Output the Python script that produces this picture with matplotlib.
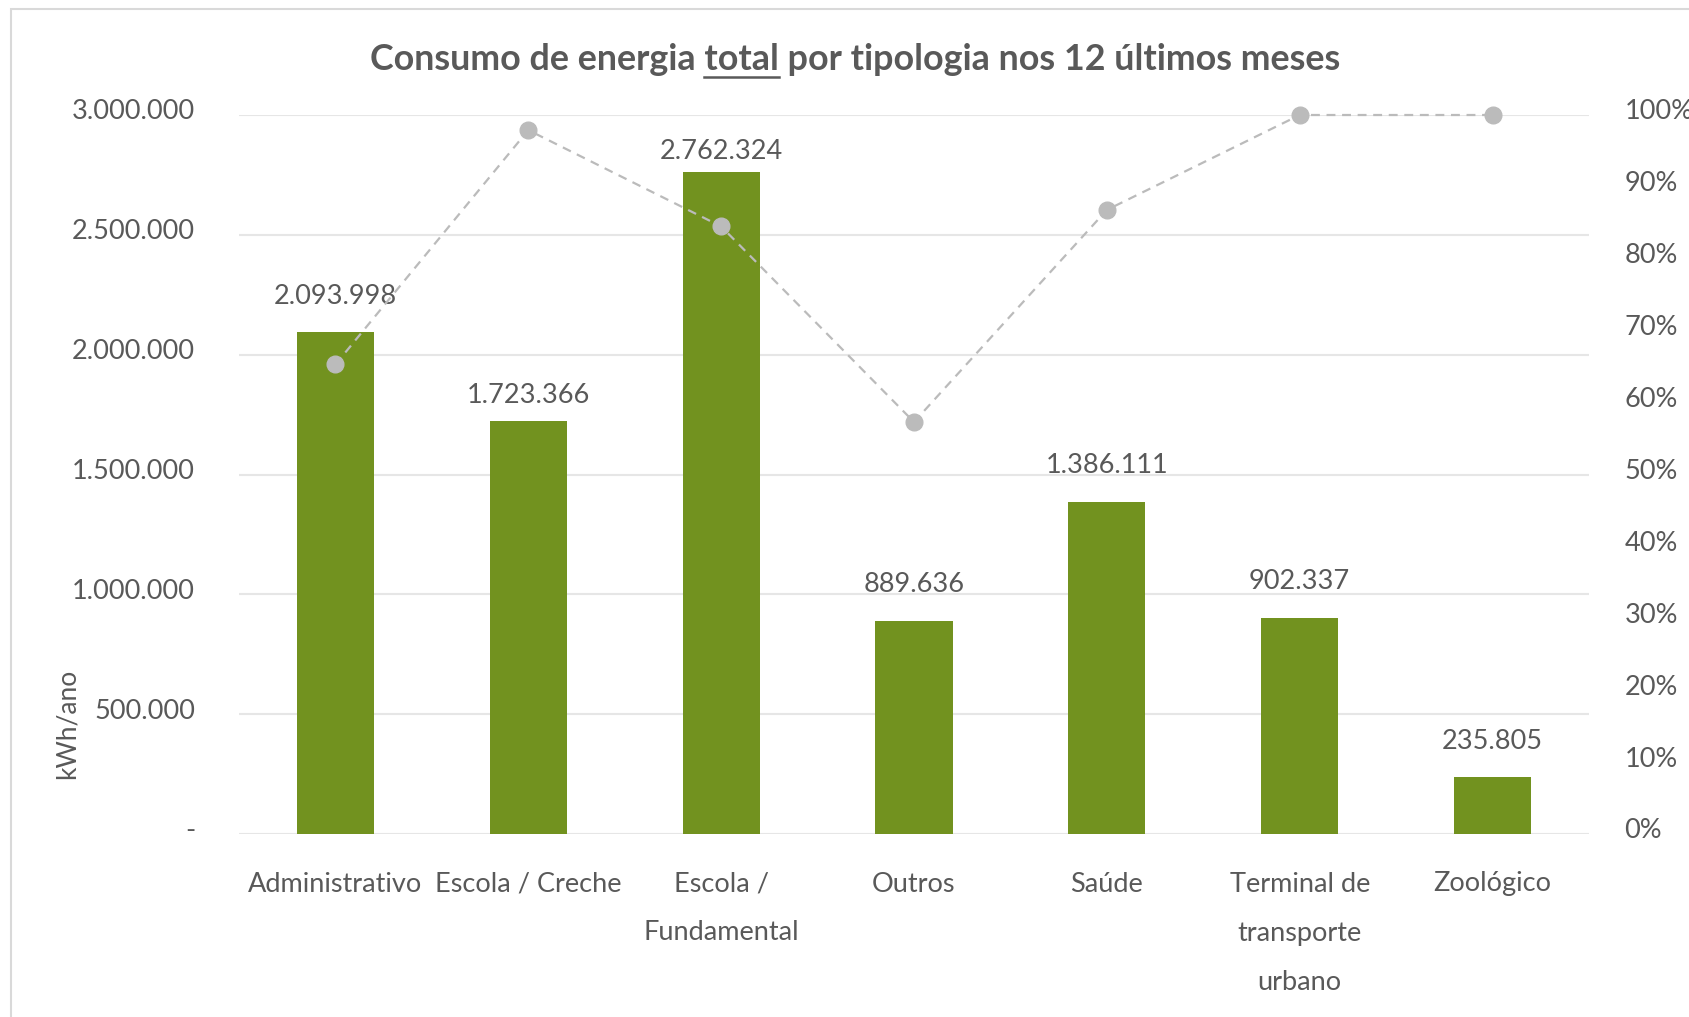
import matplotlib
matplotlib.use("Agg")
import matplotlib.pyplot as plt
from matplotlib.patches import Rectangle
from matplotlib.lines import Line2D
from matplotlib.transforms import ScaledTranslation
import numpy as np

categories = ["Administrativo", "Escola / Creche", "Escola /\nFundamental", "Outros",
              "Saúde", "Terminal de\ntransporte\nurbano", "Zoológico"]
consumo = [2093998, 1723366, 2762324, 889636, 1386111, 902337, 235805]
percent = [0.653, 0.979, 0.845, 0.573, 0.868, 1.0, 1.0]
left_ticks = [0, 500000, 1000000, 1500000, 2000000, 2500000, 3000000]
right_ticks = [0.0, 0.1, 0.2, 0.3, 0.4, 0.5, 0.6, 0.7, 0.8, 0.9, 1.0]
title_pre = "Consumo de energia "
title_mid = "total"
title_post = " por tipologia nos 12 últimos meses"
# vertical offsets (points) of the value labels above each bar
label_offsets = [26, 18, 15, 26, 26, 26, 26]

W, H = 1690, 1017
DPI = 100
TXT = "#595959"
FONT = "Lato"
FS = 19.5

plt.rcParams['font.family'] = [FONT, 'DejaVu Sans']

fig = plt.figure(figsize=(W / DPI, H / DPI), dpi=DPI)
fig.patch.set_facecolor("white")

# outer chart border (partly cropped)
fig.patches.append(Rectangle((11 / W, -0.1), 2.0, 1 - 9 / H + 0.1, transform=fig.transFigure,
                             fill=False, edgecolor="#D9D9D9", linewidth=1.5))

ax_l, ax_r, ax_t, ax_b = 239, 1589, 115, 834
ax = fig.add_axes([ax_l / W, 1 - ax_b / H, (ax_r - ax_l) / W, (ax_b - ax_t) / H])
ax2 = ax.twinx()

x = np.arange(len(categories))
bars = ax.bar(x, consumo, width=0.40, color="#72921F", zorder=3)
ax.set_xlim(-0.5, len(categories) - 0.5)
ax.set_ylim(0, 3000000)
ax.set_yticks(left_ticks)
ax.set_yticklabels(["-" if v == 0 else f"{v:,}".replace(",", ".") for v in left_ticks])
ax.grid(axis="y", color="#E6E6E6", linewidth=1.5, zorder=0)
ax.set_axisbelow(True)

for b, v, off in zip(bars, consumo, label_offsets):
    ax.annotate(f"{v:,}".replace(",", "."), (b.get_x() + b.get_width() / 2, v),
                xytext=(0, off), textcoords="offset points", ha="center", va="center",
                fontsize=FS, color=TXT)

ax.set_xticks(x)
ax.set_xticklabels(categories, fontsize=FS, color=TXT, linespacing=2.2, va="top")
ax.tick_params(axis="x", length=0, pad=27)
ax.tick_params(axis="y", length=0, pad=31.7, labelsize=FS, labelcolor=TXT)

ax2.plot(x, percent, linestyle=(0, (4, 3)), color="#BBBBBB", linewidth=1.6,
         marker="o", markersize=12, markerfacecolor="#BBBBBB", markeredgecolor="#BBBBBB",
         zorder=5, clip_on=False)
ax2.set_ylim(0, 1.0)
ax2.set_yticks(right_ticks)
ax2.set_yticklabels([f"{v:.0%}" for v in right_ticks])
ax2.tick_params(axis="y", length=0, pad=25.6, labelsize=FS, labelcolor=TXT)

# tick labels sit slightly above their gridlines
shift = ScaledTranslation(0, 4 / 72, fig.dpi_scale_trans)
for lab in ax.get_yticklabels() + ax2.get_yticklabels():
    lab.set_transform(lab.get_transform() + shift)

for a in (ax, ax2):
    for s in a.spines.values():
        s.set_visible(False)

# y-axis title
fig.text(67 / W, 1 - 724 / H, "kWh/ano", rotation=90, ha="center", va="center",
         fontsize=FS - 0.5, color=TXT)

# title with underlined word
title = title_pre + title_mid + title_post
ty = 1 - 60 / H
tfs = 25.8
t = fig.text(0.5 + 10 / W, ty, title, ha="center", va="center", fontsize=tfs,
             fontweight="bold", color=TXT)
fig.canvas.draw()
r = fig.canvas.get_renderer()
bb = t.get_window_extent(r)
m1 = fig.text(0, 0, title_pre + title_mid, fontsize=tfs, fontweight="bold")
m2 = fig.text(0, 0, title_mid, fontsize=tfs, fontweight="bold")
w1 = m1.get_window_extent(r).width
w2 = m2.get_window_extent(r).width
m1.remove(); m2.remove()
x_end = bb.x0 + w1
x_start = x_end - w2
uy = (H - 77)
fig.lines.append(Line2D([x_start / W, x_end / W], [uy / H, uy / H], transform=fig.transFigure,
                        color=TXT, linewidth=1.8))

fig.savefig("out.png", dpi=DPI)
